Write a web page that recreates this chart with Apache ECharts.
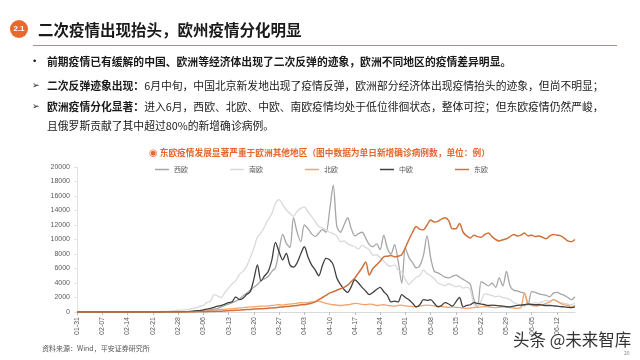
<!DOCTYPE html>
<html>
<head>
<meta charset="utf-8">
<script src="https://cdn.jsdelivr.net/npm/echarts@6/dist/echarts.min.js"></script>
<style>
    html, body{
        margin: 0;
        padding: 0;
        background: #fff;
    }
    .root{
        position: relative;
        width: 640px;
        height: 360px;
        overflow: hidden;
        font-family: "Noto Sans CJK SC", sans-serif;
        color: #1a1a1a;
    }
    .myEcharts{
        position: absolute;
        left: 0;
        top: 0;
        width: 640px;
        height: 360px;
    }
    .badge{
        position: absolute;
        left: 10px;
        top: 20px;
        width: 18px;
        height: 18px;
        border-radius: 50%;
        background: #e8692d;
        color: #fff;
        font: bold 8px "Liberation Sans", sans-serif;
        text-align: center;
        line-height: 18px;
    }
    .title{
        position: absolute;
        left: 38px;
        top: 17px;
        font-size: 15.5px;
        font-weight: bold;
        line-height: 24px;
    }
    .title_line{
        position: absolute;
        left: 33px;
        top: 45px;
        width: 584px;
        height: 1px;
        background: #e57a5f;
    }
    .row{
        position: absolute;
        left: 47px;
        font-size: 10.8px;
        line-height: 14px;
        white-space: nowrap;
    }
    .row b{
        font-weight: bold;
    }
    .mark{
        position: absolute;
        left: -15px;
        font-family: "DejaVu Sans", sans-serif;
        font-size: 9px;
    }
    .source{
        position: absolute;
        left: 42px;
        top: 343px;
        font-size: 7px;
        color: #555;
        white-space: nowrap;
    }
    .wm{
        position: absolute;
        left: 513px;
        top: 327px;
        font-size: 16.5px;
        color: #333;
        text-shadow: 0 0 2px #fff;
        white-space: nowrap;
    }
    .page_no{
        position: absolute;
        left: 624px;
        top: 349px;
        font-size: 5px;
        color: #888;
    }
</style>
</head>
<body>
<div class="root">
    <div class="myEcharts" id="myEcharts"></div>
    <!-- 标题 -->
    <div class="badge">2.1</div>
    <div class="title">二次疫情出现抬头，欧州疫情分化明显</div>
    <div class="title_line"></div>
    <!-- 要点 -->
    <div class="row" style="top:54px;"><span class="mark">•</span><b>前期疫情已有缓解的中国、欧洲等经济体出现了二次反弹的迹象，欧洲不同地区的疫情差异明显。</b></div>
    <div class="row" style="top:78px;"><span class="mark">➢</span><b>二次反弹迹象出现：</b>6月中旬，中国北京新发地出现了疫情反弹，欧洲部分经济体出现疫情抬头的迹象，但尚不明显；</div>
    <div class="row" style="top:99px;"><span class="mark">➢</span><b>欧洲疫情分化显著：</b>进入6月，西欧、北欧、中欧、南欧疫情均处于低位徘徊状态，整体可控；但东欧疫情仍然严峻，</div>
    <div class="row" style="top:118px;">且俄罗斯贡献了其中超过80%的新增确诊病例。</div>
    <div class="source">资料来源：Wind，平安证券研究所</div>
    <div class="wm">头条 @未来智库</div>
    <div class="page_no">20</div>
</div>

<script>
    // 日期 01-31 ~ 06-17，逐日
    var dates = [];
    for (var i = 0; i < 139; i++) {
        var d = new Date(2020, 0, 31 + i);
        var mm = ('0' + (d.getMonth() + 1)).slice(-2);
        var dd = ('0' + d.getDate()).slice(-2);
        dates.push(mm + '-' + dd);
    }

    // 单日新增确诊（例），每行一周
    var westEU = [
        0,0,0,0,0,0,0,
        0,0,0,0,0,0,0,
        0,0,0,0,0,0,0,
        0,0,0,5,5,10,10,
        15,20,30,40,60,80,100,
        150,200,300,400,500,700,900,
        1100,1300,1500,1800,2200,2600,3000,
        3400,3800,4300,4600,4900,5600,6100,
        8500,10700,9500,8900,13000,11000,9700,
        12000,11500,10800,10400,10900,11350,11000,
        14000,17500,11800,11000,12000,13000,11500,
        10500,10800,11000,10200,9300,9000,9400,
        8600,10600,8800,8000,9300,7000,4000,
        8800,7500,6800,6100,6400,7800,10500,
        7500,5600,5400,5100,4800,4700,4900,
        5100,4800,4500,4200,3800,1700,700,
        4200,3900,3600,4000,3400,4700,3600,
        5600,3600,3000,2900,2700,2600,1000,
        2800,2700,2500,2400,2300,2100,2600,
        2700,2500,2300,2000,1700,2100
    ];
    var southEU = [
        0,0,0,0,0,0,0,
        0,0,0,0,0,0,0,
        0,0,0,0,0,0,0,
        5,20,60,80,70,120,180,
        240,250,300,350,500,560,780,
        900,1300,1500,2400,2200,2000,2700,
        3300,3900,4300,5200,5600,6300,7500,
        8800,10300,10900,11800,12800,13600,15000,
        15500,14800,14100,13600,13200,13900,14300,
        14500,13800,13200,12500,11800,11600,11300,
        11000,10800,10500,9700,9800,9400,9200,
        9000,8700,9200,8900,8600,7800,7900,
        7500,7000,6500,6300,6500,5800,5500,
        4500,3800,4300,4800,5000,5800,5300,
        5000,4600,4000,3800,3600,3900,3700,
        3500,3600,3300,3400,3100,1000,800,
        1500,2500,2400,2300,2100,2200,2000,
        1900,1700,1300,1100,900,800,1000,
        1100,1300,1200,1400,1600,1500,1700,
        1500,1300,1200,1100,1000,1200
    ];
    var northEU = [
        0,0,0,0,0,0,0,
        0,0,0,0,0,0,0,
        0,0,0,0,0,0,0,
        0,0,0,0,5,5,10,
        15,20,30,40,60,80,100,
        130,160,200,260,300,350,380,
        420,460,500,560,600,650,700,
        720,760,800,820,850,900,950,
        1000,950,1050,1100,1150,1200,1300,
        1250,1300,1400,1450,1500,1350,1200,
        1100,1000,950,900,950,1000,1100,
        1200,1150,1050,1000,1100,1050,900,
        950,1000,900,850,800,900,950,
        850,800,750,700,800,900,950,
        900,850,800,750,700,650,700,
        650,600,550,500,550,600,650,
        700,750,700,650,600,650,700,
        650,600,550,500,600,2600,1200,
        900,800,900,1000,1200,1400,1700,
        1500,1200,1000,900,700,900
    ];
    var centralEU = [
        0,0,0,0,0,0,0,
        0,0,0,0,0,0,0,
        0,0,0,0,0,0,0,
        0,0,0,5,10,10,20,
        30,40,50,80,120,160,200,
        300,400,500,650,800,900,1100,
        1300,1400,2100,1700,1900,2400,2800,
        4500,6500,4300,5000,5600,7200,9600,
        8300,7200,8100,6500,6200,6800,8000,
        9000,7600,6500,5800,5000,6400,7400,
        7200,6500,4700,3800,3100,2700,3500,
        4450,4000,3400,2900,2400,2700,3100,
        3400,2800,2300,1400,1500,1400,2400,
        2000,1700,1200,700,1000,1700,1600,
        1700,1200,700,900,1300,1100,800,
        1400,2000,700,900,1000,1300,1200,
        1100,1000,900,950,900,850,800,
        750,700,800,900,950,1000,1100,
        1050,1000,1000,950,900,900,850,
        800,750,700,650,600,700
    ];
    var eastEU = [
        0,0,0,0,0,0,0,
        0,0,0,0,0,0,0,
        0,0,0,0,0,0,0,
        0,0,0,0,0,0,0,
        0,5,5,10,10,20,30,
        40,50,60,80,100,120,150,
        180,200,230,260,300,330,360,
        400,420,450,480,520,560,600,
        650,700,750,800,850,900,1000,
        1000,1100,1200,1400,1700,2000,2300,
        2600,2800,3000,3200,3400,3700,4200,
        4700,5400,6100,6900,5100,6000,6500,
        7000,7600,7700,7800,7600,7700,7900,
        8900,10000,11000,11800,11400,11350,12000,
        12700,12400,12500,12800,13000,12600,11500,
        11500,12200,11000,10500,10200,10600,10400,
        10300,10700,10900,10400,10000,9800,9960,
        10100,10400,10700,10500,10600,10900,10500,
        10600,10400,10500,10300,10100,10500,10700,
        10600,10500,10200,9800,9700,10000
    ];

    var names = ['西欧', '南欧', '北欧', '中欧', '东欧'];
    var colors = ['#a6a6a6', '#d9d9d9', '#f4a46a', '#404040', '#d0703a'];

    function mkSeries(name, data, color, width){
        return {
            name: name,
            type: 'line',
            data: data,
            smooth: 0.3,
            symbol: 'none',
            lineStyle: { color: color, width: width },
            itemStyle: { color: color }
        };
    }

    var myChart = echarts.init(document.getElementById('myEcharts'));
    var options = {
        animation: false,
        title: {
            text: '{i|◉} 东欧疫情发展显著严重于欧洲其他地区（图中数据为单日新增确诊病例数，单位：例）',
            left: 144,
            top: 143,
            textStyle: {
                fontSize: 8.7,
                fontWeight: 'bold',
                color: '#e4672e',
                fontFamily: 'Noto Sans CJK SC',
                rich: {
                    i: { fontSize: 10, color: '#e4672e', fontFamily: 'DejaVu Sans' }
                }
            }
        },
        legend: {
            left: 150,
            top: 161,
            itemGap: 42,
            itemWidth: 14,
            itemHeight: 1.5,
            icon: 'rect',
            data: names,
            textStyle: { fontSize: 7, color: '#595959', fontFamily: 'Noto Sans CJK SC' }
        },
        grid: {
            left: 77,
            right: 65,
            top: 167,
            bottom: 48
        },
        xAxis: {
            type: 'category',
            boundaryGap: false,
            data: dates,
            axisLine: { lineStyle: { color: '#d9d9d9' } },
            axisTick: { interval: 6, length: 3, lineStyle: { color: '#bfbfbf' } },
            axisLabel: {
                interval: 6,
                rotate: 90,
                fontSize: 7,
                margin: 5,
                color: '#595959',
                fontFamily: 'Liberation Sans'
            }
        },
        yAxis: {
            type: 'value',
            min: 0,
            max: 20000,
            interval: 2000,
            splitLine: { show: false },
            axisLine: { show: true, lineStyle: { color: '#e3e3e3' } },
            axisTick: { show: true, length: 3, lineStyle: { color: '#e3e3e3' } },
            axisLabel: {
                fontSize: 7,
                margin: 7,
                color: '#595959',
                fontFamily: 'Liberation Sans',
                formatter: function (v) { return String(v); }
            }
        },
        series: [
            mkSeries('西欧', westEU, colors[0], 1.3),
            mkSeries('南欧', southEU, colors[1], 1.3),
            mkSeries('北欧', northEU, colors[2], 1.3),
            mkSeries('中欧', centralEU, colors[3], 1.3),
            mkSeries('东欧', eastEU, colors[4], 1.5)
        ]
    };
    myChart.setOption(options);
</script>
</body>
</html>
